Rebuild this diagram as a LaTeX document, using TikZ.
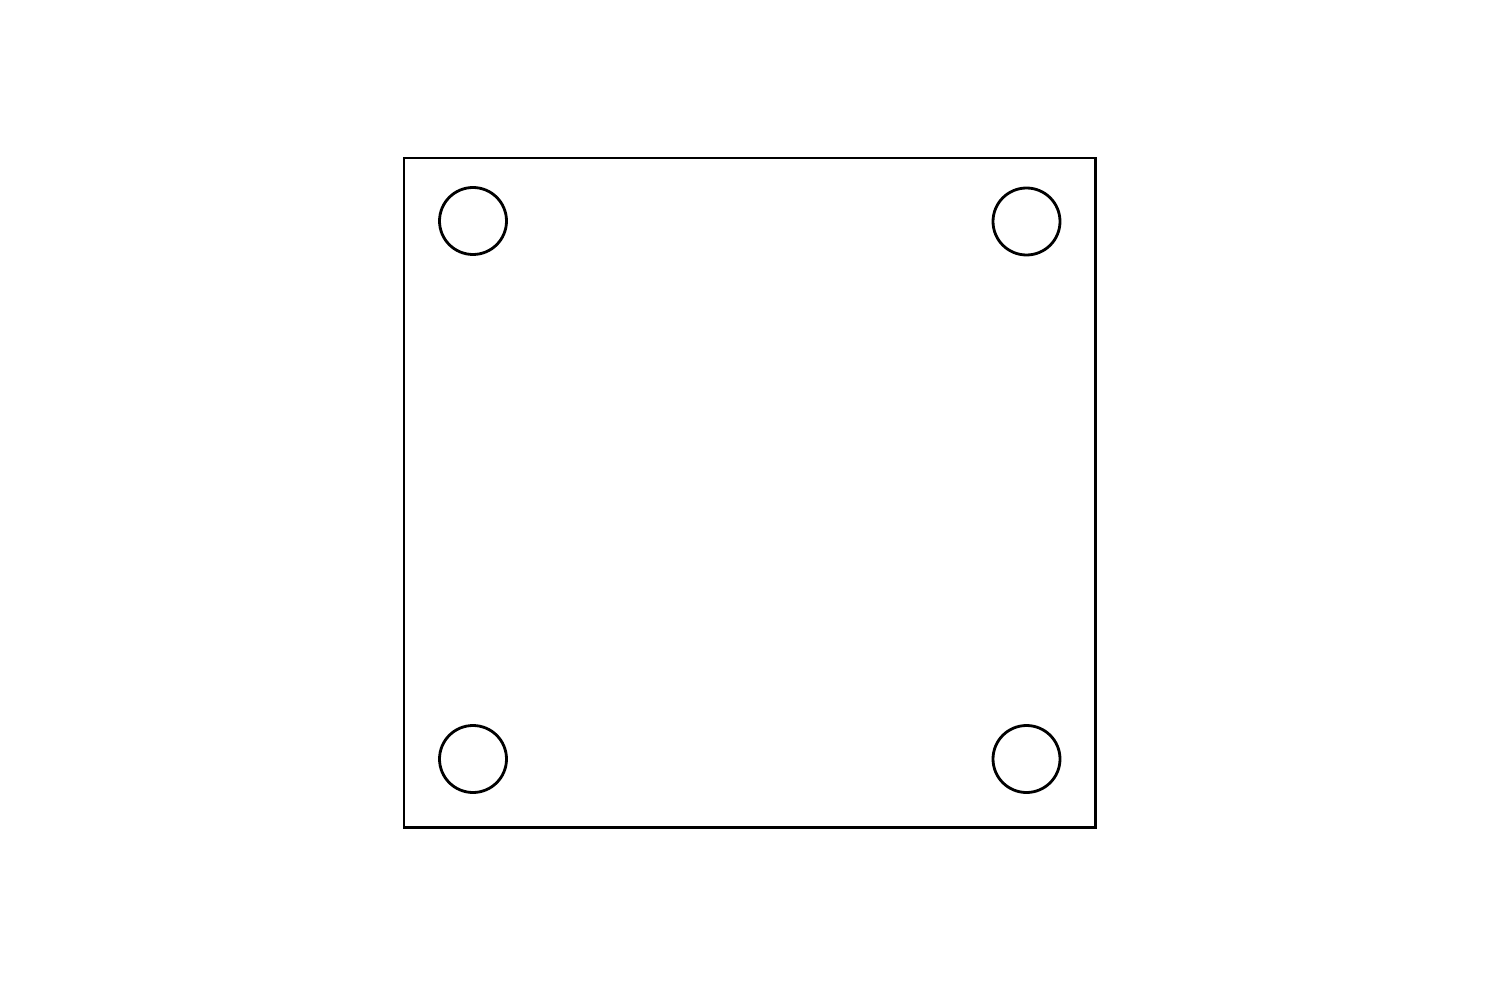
\documentclass[tikz,border=0pt]{standalone}
\begin{document}
\begin{tikzpicture}[x=1pt,y=-1pt,
  plate/.style={draw=black,line width=2.6pt},
  hole/.style={draw=black,line width=2.8pt,circle,minimum size=67pt,inner sep=0pt}]
\useasboundingbox[fill=white] (0,0) rectangle (1500,1000);
\draw[plate] (404,158) rectangle (1095.5,827.5);
\node[hole] (h1) at (473,221) {};
\node[hole] (h2) at (1026.5,221.5) {};
\node[hole] (h3) at (473,759) {};
\node[hole] (h4) at (1026.5,759) {};
\end{tikzpicture}
\end{document}
